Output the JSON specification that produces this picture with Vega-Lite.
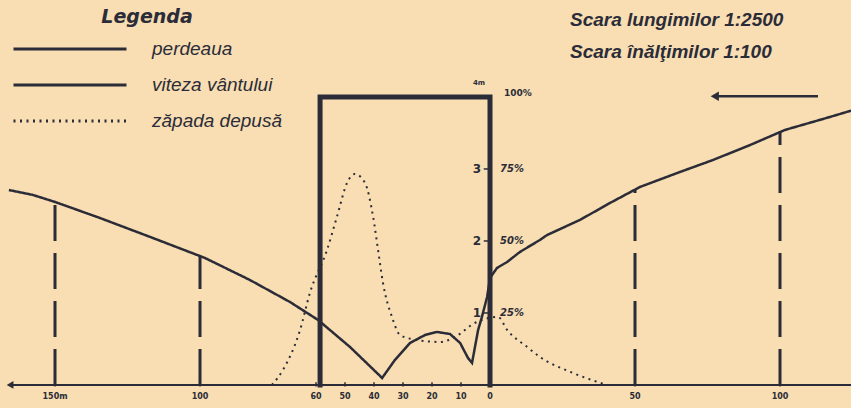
{
  "$schema": "https://vega.github.io/schema/vega-lite/v6.json",
  "width": 851,
  "height": 408,
  "autosize": "none",
  "padding": 0,
  "background": "#f8deb2",
  "config": {"view": {"stroke": null}, "axis": {"disable": true}},
  "datasets": {
    "perdea": [
      {"series": "perdeaua", "x": -58.6, "y": 0, "i": 0},
      {"series": "perdeaua", "x": -58.6, "y": 4.0, "i": 1},
      {"series": "perdeaua", "x": 0, "y": 4.0, "i": 2},
      {"series": "perdeaua", "x": 0, "y": 0, "i": 3}
    ],
    "vant": [
      {"series": "viteza vântului", "x": -165.9, "y": 2.708},
      {"series": "viteza vântului", "x": -157.6, "y": 2.639},
      {"series": "viteza vântului", "x": -150.0, "y": 2.542},
      {"series": "viteza vântului", "x": -134.5, "y": 2.319},
      {"series": "viteza vântului", "x": -117.2, "y": 2.056},
      {"series": "viteza vântului", "x": -98.3, "y": 1.764},
      {"series": "viteza vântului", "x": -82.8, "y": 1.458},
      {"series": "viteza vântului", "x": -69.0, "y": 1.153},
      {"series": "viteza vântului", "x": -59.3, "y": 0.903},
      {"series": "viteza vântului", "x": -48.3, "y": 0.528},
      {"series": "viteza vântului", "x": -37.2, "y": 0.097},
      {"series": "viteza vântului", "x": -32.8, "y": 0.347},
      {"series": "viteza vântului", "x": -27.6, "y": 0.583},
      {"series": "viteza vântului", "x": -22.4, "y": 0.694},
      {"series": "viteza vântului", "x": -18.3, "y": 0.736},
      {"series": "viteza vântului", "x": -13.8, "y": 0.708},
      {"series": "viteza vântului", "x": -10.3, "y": 0.583},
      {"series": "viteza vântului", "x": -7.6, "y": 0.375},
      {"series": "viteza vântului", "x": -6.2, "y": 0.306},
      {"series": "viteza vântului", "x": -4.1, "y": 0.764},
      {"series": "viteza vântului", "x": -2.8, "y": 0.944},
      {"series": "viteza vântului", "x": -1.0, "y": 1.222},
      {"series": "viteza vântului", "x": 0.0, "y": 1.486},
      {"series": "viteza vântului", "x": 2.4, "y": 1.625},
      {"series": "viteza vântului", "x": 5.9, "y": 1.708},
      {"series": "viteza vântului", "x": 10.3, "y": 1.847},
      {"series": "viteza vântului", "x": 17.2, "y": 2.014},
      {"series": "viteza vântului", "x": 19.7, "y": 2.083},
      {"series": "viteza vântului", "x": 31.0, "y": 2.292},
      {"series": "viteza vântului", "x": 41.4, "y": 2.528},
      {"series": "viteza vântului", "x": 51.7, "y": 2.75},
      {"series": "viteza vântului", "x": 65.5, "y": 2.958},
      {"series": "viteza vântului", "x": 76.9, "y": 3.125},
      {"series": "viteza vântului", "x": 89.7, "y": 3.333},
      {"series": "viteza vântului", "x": 101.7, "y": 3.542},
      {"series": "viteza vântului", "x": 117.2, "y": 3.722},
      {"series": "viteza vântului", "x": 124.5, "y": 3.81}
    ],
    "zapada": [
      {"series": "zăpada depusă", "x": -75.2, "y": 0},
      {"series": "zăpada depusă", "x": -71.4, "y": 0.208},
      {"series": "zăpada depusă", "x": -65.5, "y": 0.764},
      {"series": "zăpada depusă", "x": -62.1, "y": 1.278},
      {"series": "zăpada depusă", "x": -56.2, "y": 1.875},
      {"series": "zăpada depusă", "x": -52.8, "y": 2.333},
      {"series": "zăpada depusă", "x": -49.3, "y": 2.806},
      {"series": "zăpada depusă", "x": -46.6, "y": 2.931},
      {"series": "zăpada depusă", "x": -43.1, "y": 2.806},
      {"series": "zăpada depusă", "x": -40.3, "y": 2.333},
      {"series": "zăpada depusă", "x": -38.6, "y": 1.875},
      {"series": "zăpada depusă", "x": -36.9, "y": 1.417},
      {"series": "zăpada depusă", "x": -33.8, "y": 0.944},
      {"series": "zăpada depusă", "x": -31.0, "y": 0.694},
      {"series": "zăpada depusă", "x": -25.2, "y": 0.625},
      {"series": "zăpada depusă", "x": -17.2, "y": 0.597},
      {"series": "zăpada depusă", "x": -12.1, "y": 0.667},
      {"series": "zăpada depusă", "x": -5.2, "y": 0.861},
      {"series": "zăpada depusă", "x": 2.8, "y": 0.944},
      {"series": "zăpada depusă", "x": 5.9, "y": 0.764},
      {"series": "zăpada depusă", "x": 12.8, "y": 0.528},
      {"series": "zăpada depusă", "x": 17.2, "y": 0.389},
      {"series": "zăpada depusă", "x": 28.6, "y": 0.167},
      {"series": "zăpada depusă", "x": 40.3, "y": 0}
    ],
    "masuri": [
      {"x": -150, "y": 0}, {"x": -150, "y": 2.54},
      {"x": -100, "y": 0}, {"x": -100, "y": 1.79},
      {"x": 50, "y": 0}, {"x": 50, "y": 2.72},
      {"x": 100, "y": 0}, {"x": 100, "y": 3.52}
    ],
    "axa": [
      {"x": -165.5, "y": 0, "parte": "varf"},
      {"x": 124.48, "y": 0, "parte": "coada"}
    ],
    "sageata": [
      {"x": 77.5, "y": 4.01, "parte": "varf"},
      {"x": 113.1, "y": 4.01, "parte": "coada"}
    ],
    "ticks": [
      {"x": -150, "y": 0, "label": "150m"},
      {"x": -100, "y": 0, "label": "100"},
      {"x": -60, "y": 0, "label": "60"},
      {"x": -50, "y": 0, "label": "50"},
      {"x": -40, "y": 0, "label": "40"},
      {"x": -30, "y": 0, "label": "30"},
      {"x": -20, "y": 0, "label": "20"},
      {"x": -10, "y": 0, "label": "10"},
      {"x": 0, "y": 0, "label": "0"},
      {"x": 50, "y": 0, "label": "50"},
      {"x": 100, "y": 0, "label": "100"}
    ],
    "yticks": [
      {"x": 0, "y": 1, "label": "1", "pct": "25%"},
      {"x": 0, "y": 2, "label": "2", "pct": "50%"},
      {"x": 0, "y": 3, "label": "3", "pct": "75%"}
    ],
    "varf": [
      {"x": 0, "y": 4, "label": "4m", "pct": "100%"}
    ],
    "titluri": [
      {"x": 27.6, "y": 5.07, "t": "Scara lungimilor  1:2500"},
      {"x": 27.6, "y": 4.625, "t": "Scara înălţimilor  1:100"}
    ]
  },
  "encoding": {
    "x": {"field": "x", "type": "quantitative", "scale": {"domain": [-168.97, 124.48], "nice": false, "zero": false}, "axis": null},
    "y": {"field": "y", "type": "quantitative", "scale": {"domain": [-0.32, 5.347], "nice": false, "zero": false}, "axis": null}
  },
  "layer": [
    {
      "data": {"name": "zapada"},
      "mark": {"type": "line", "interpolate": "monotone", "strokeWidth": 2},
      "encoding": {
        "color": {
          "field": "series", "type": "nominal",
          "scale": {"domain": ["perdeaua", "viteza vântului", "zăpada depusă"], "range": ["#2b2c38", "#2b2c38", "#2b2c38"]},
          "legend": {
            "title": "Legenda",
            "orient": "none", "legendX": 12, "legendY": 8,
            "padding": 0,
            "titleFont": "DejaVu Sans", "titleFontSize": 19, "titleFontStyle": "italic", "titleFontWeight": "bold", "titleColor": "#2b2c38", "titleAnchor": "middle", "titlePadding": 12,
            "labelFont": "Liberation Sans", "labelFontSize": 19, "labelFontStyle": "italic", "labelColor": "#2b2c38", "labelLimit": 300,
            "symbolType": "stroke", "symbolSize": 12769, "symbolStrokeWidth": 3, "labelOffset": 24, "clipHeight": 20, "rowPadding": 16
          }
        },
        "strokeDash": {
          "field": "series", "type": "nominal",
          "scale": {"domain": ["perdeaua", "viteza vântului", "zăpada depusă"], "range": [[1, 0], [1, 0], [2, 4.5]]}
        }
      }
    },
    {
      "data": {"name": "vant"},
      "mark": {"type": "line", "strokeWidth": 2.5},
      "encoding": {
        "color": {"field": "series", "type": "nominal"},
        "strokeDash": {"field": "series", "type": "nominal"}
      }
    },
    {
      "data": {"name": "perdea"},
      "mark": {"type": "line", "strokeWidth": 5, "strokeCap": "square"},
      "encoding": {
        "order": {"field": "i", "type": "quantitative"},
        "color": {"field": "series", "type": "nominal"},
        "strokeDash": {"field": "series", "type": "nominal"}
      }
    },
    {
      "data": {"name": "masuri"},
      "mark": {"type": "line", "color": "#2b2c38", "strokeWidth": 3, "strokeDash": [36, 12]},
      "encoding": {
        "detail": {"field": "x", "type": "nominal"},
        "order": {"field": "y", "type": "quantitative"}
      }
    },
    {
      "data": {"name": "axa"},
      "mark": {"type": "line", "color": "#2b2c38", "strokeWidth": 2}
    },
    {
      "data": {"name": "axa"},
      "transform": [{"filter": "datum.parte === 'varf'"}],
      "mark": {"type": "point", "shape": "triangle-left", "filled": true, "color": "#2b2c38", "size": 60, "opacity": 1}
    },
    {
      "data": {"name": "sageata"},
      "mark": {"type": "line", "color": "#2b2c38", "strokeWidth": 2.5}
    },
    {
      "data": {"name": "sageata"},
      "transform": [{"filter": "datum.parte === 'varf'"}],
      "mark": {"type": "point", "shape": "triangle-left", "filled": true, "color": "#2b2c38", "size": 90, "opacity": 1}
    },
    {
      "data": {"name": "ticks"},
      "mark": {"type": "point", "shape": "M0,-1L0,0.6", "filled": false, "color": "#2b2c38", "strokeWidth": 1.5, "size": 30, "opacity": 1}
    },
    {
      "data": {"name": "ticks"},
      "mark": {"type": "text", "font": "DejaVu Sans", "fontWeight": "bold", "fontSize": 8, "color": "#2b2c38", "dy": 12},
      "encoding": {"text": {"field": "label"}}
    },
    {
      "data": {"name": "yticks"},
      "mark": {"type": "text", "font": "DejaVu Sans", "fontWeight": "bold", "fontSize": 12, "color": "#2b2c38", "dx": -13},
      "encoding": {"text": {"field": "label"}}
    },
    {
      "data": {"name": "yticks"},
      "mark": {"type": "text", "font": "DejaVu Sans", "fontWeight": "bold", "fontStyle": "italic", "fontSize": 10, "color": "#2b2c38", "dx": 10, "align": "left"},
      "encoding": {"text": {"field": "pct"}}
    },
    {
      "data": {"name": "yticks"},
      "mark": {"type": "point", "shape": "M-1,0L1,0", "filled": false, "color": "#2b2c38", "strokeWidth": 1.5, "size": 20, "opacity": 1, "xOffset": -4}
    },
    {
      "data": {"name": "varf"},
      "mark": {"type": "text", "font": "DejaVu Sans", "fontWeight": "bold", "fontSize": 7, "color": "#2b2c38", "dx": -11, "dy": -14},
      "encoding": {"text": {"field": "label"}}
    },
    {
      "data": {"name": "varf"},
      "mark": {"type": "text", "font": "DejaVu Sans", "fontWeight": "bold", "fontSize": 9, "color": "#2b2c38", "dx": 14, "dy": -4, "align": "left"},
      "encoding": {"text": {"field": "pct"}}
    },
    {
      "data": {"name": "titluri"},
      "mark": {"type": "text", "font": "Liberation Sans", "fontWeight": "bold", "fontStyle": "italic", "fontSize": 19, "color": "#2b2c38", "align": "left", "baseline": "middle"},
      "encoding": {"text": {"field": "t"}}
    }
  ]
}
